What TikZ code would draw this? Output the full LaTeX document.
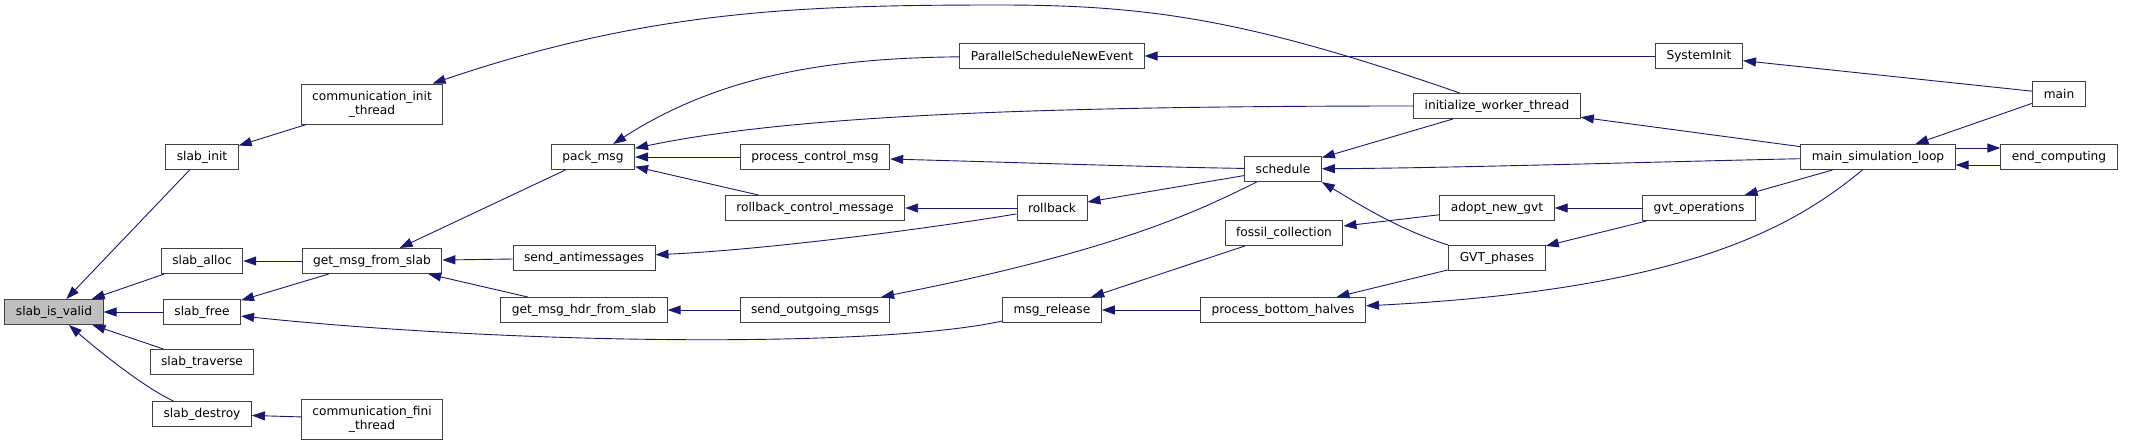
\documentclass[tikz,border=0pt]{standalone}
\usepackage{fontspec}
\setmainfont{DejaVu Sans}
\usetikzlibrary{arrows.meta}
\definecolor{callNavy}{RGB}{25,25,112}
\definecolor{boxInk}{RGB}{64,64,64}
\definecolor{rootGrey}{RGB}{191,191,191}

\begin{document}
\begin{tikzpicture}[x=1pt, y=-1pt,
      fn/.style={draw=boxInk, line width=1pt, fill=white, inner xsep=11pt, inner ysep=0pt, minimum height=25pt, align=center, font=\fontsize{12.2}{14.3}\selectfont},
      root/.style={fn, fill=rootGrey},
      call/.style={draw=callNavy, line width=0.9pt, -{Triangle[length=13pt, width=9pt]}}
    ]
    \useasboundingbox (0,0) rectangle (2147,445);

    \node[root] (siv) at (54,312) {slab\_is\_valid};
    \node[fn] (sinit) at (202,157) {slab\_init};
    \node[fn, minimum height=40pt] (cit) at (372,104) {communication\_init\\\_thread};
    \node[fn] (salloc) at (202,261) {slab\_alloc};
    \node[fn] (gmfs) at (372,261) {get\_msg\_from\_slab};
    \node[fn] (sfree) at (202,312) {slab\_free};
    \node[fn] (strav) at (202,362) {slab\_traverse};
    \node[fn] (sdest) at (202,414) {slab\_destroy};
    \node[fn, minimum height=40pt] (cft) at (372,419) {communication\_fini\\\_thread};
    \node[fn] (pack) at (593,157) {pack\_msg};
    \node[fn] (psne) at (1052,56) {ParallelScheduleNewEvent};
    \node[fn] (pcm) at (815,157) {process\_control\_msg};
    \node[fn] (rcm) at (815,208) {rollback\_control\_message};
    \node[fn] (rb) at (1052,208) {rollback};
    \node[fn] (santi) at (584,258) {send\_antimessages};
    \node[fn] (gmhfs) at (584,310) {get\_msg\_hdr\_from\_slab};
    \node[fn] (som) at (815,310) {send\_outgoing\_msgs};
    \node[fn] (mrel) at (1052,310) {msg\_release};
    \node[fn] (iwt) at (1497,106) {initialize\_worker\_thread};
    \node[fn] (sched) at (1283,169) {schedule};
    \node[fn] (anew) at (1497,208) {adopt\_new\_gvt};
    \node[fn] (fossil) at (1284,233) {fossil\_collection};
    \node[fn] (gvtp) at (1497,258) {GVT\_phases};
    \node[fn] (pbh) at (1283,310) {process\_bottom\_halves};
    \node[fn] (sysinit) at (1699,56) {SystemInit};
    \node[fn] (main) at (2059,94) {main};
    \node[fn] (msl) at (1878,157) {main\_simulation\_loop};
    \node[fn] (endc) at (2059,157) {end\_computing};
    \node[fn] (gvtop) at (1699,208) {gvt\_operations};

    \draw[call] (sinit) -- (siv);
    \draw[call] (salloc) -- (siv);
    \draw[call] (sfree) -- (siv);
    \draw[call] (strav) -- (siv);
    \draw[call] (sdest) .. controls (145,388) and (100,352) .. (siv);
    \draw[call] (cit) -- (sinit);
    \draw[call] (gmfs) -- (salloc);
    \draw[call] (gmfs) -- (sfree);
    \draw[call] (mrel) .. controls (880,348) and (520,345) .. (sfree);
    \draw[call] (cft) -- (sdest);
    \draw[call] (iwt) .. controls (1250,20) and (1150,5) .. (1000,5) .. controls (800,5) and (650,10) .. (cit);
    \draw[call] (pack) -- (gmfs);
    \draw[call] (santi) -- (gmfs);
    \draw[call] (gmhfs) -- (gmfs);
    \draw[call] (psne) .. controls (830,58) and (720,75) .. (pack);
    \draw[call] (iwt) .. controls (1000,106) and (780,118) .. (pack);
    \draw[call] (pcm) -- (pack);
    \draw[call] (rcm) -- (pack);
    \draw[call] (rb) .. controls (920,230) and (760,250) .. (santi);
    \draw[call] (som) -- (gmhfs);
    \draw[call] (sched) .. controls (1150,167) and (1000,162) .. (pcm);
    \draw[call] (rb) -- (rcm);
    \draw[call] (sched) -- (rb);
    \draw[call] (sched) .. controls (1200,210) and (1120,250) .. (som);
    \draw[call] (fossil) -- (mrel);
    \draw[call] (pbh) -- (mrel);
    \draw[call] (sysinit) -- (psne);
    \draw[call] (iwt) -- (sched);
    \draw[call] (msl) .. controls (1650,162) and (1450,168) .. (sched);
    \draw[call] (gvtp.north west) .. controls (1400,230) and (1360,205) .. (sched.south east);
    \draw[call] (anew) -- (fossil);
    \draw[call] (gvtp) -- (pbh);
    \draw[call] (msl) .. controls (1790,230) and (1680,290) .. (pbh);
    \draw[call] (main) -- (sysinit);
    \draw[call] (msl) -- (iwt);
    \draw[call] (gvtop) -- (anew);
    \draw[call] (gvtop) -- (gvtp);
    \draw[call] (msl) -- (gvtop);
    \draw[call] (main) -- (msl);
    \draw[call] ([yshift=9pt]msl.east) -- ([yshift=9pt]endc.west);
    \draw[call] ([yshift=-8pt]endc.west) -- ([yshift=-8pt]msl.east);
  \end{tikzpicture}
\end{document}
